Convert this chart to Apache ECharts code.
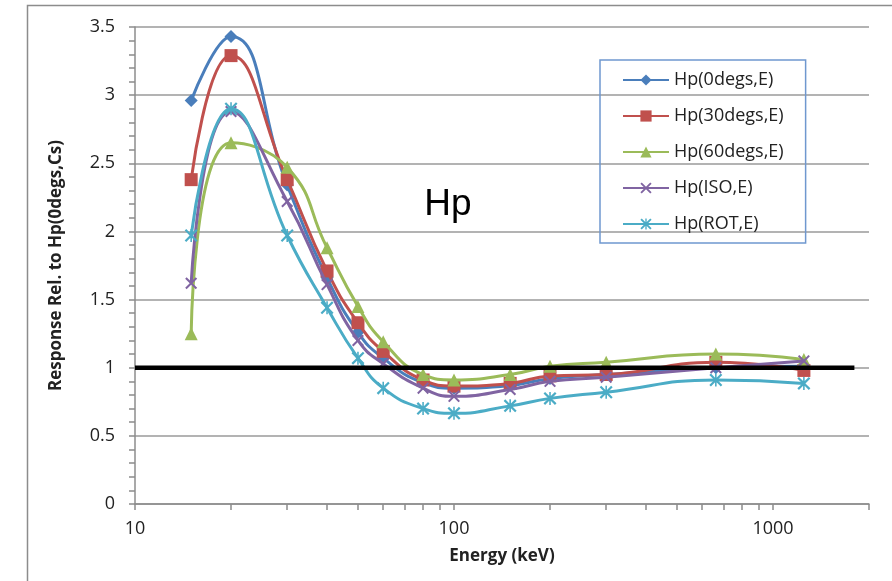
<!DOCTYPE html>
<html>
<head>
<meta charset="utf-8">
<script src="https://cdn.jsdelivr.net/npm/echarts@6/dist/echarts.min.js"></script>
<style>
html,body{margin:0;padding:0;background:#fff;}
#chart{width:892px;height:581px;}
</style>
</head>
<body>
<div id="chart"></div>
<script>
// Energies (keV)
const energies = [15, 20, 30, 40, 50, 60, 80, 100, 150, 200, 300, 662, 1250];
const seriesNames = ['Hp(0degs,E)', 'Hp(30degs,E)', 'Hp(60degs,E)', 'Hp(ISO,E)', 'Hp(ROT,E)'];
const hp0 =   [2.96, 3.43, 2.34, 1.66, 1.26, 1.07, 0.89, 0.85, 0.87, 0.92, 0.95, 1.00, 1.01];
const hp30 =  [2.38, 3.29, 2.38, 1.71, 1.33, 1.12, 0.91, 0.865, 0.885, 0.94, 0.95, 1.04, 0.98];
const hp60 =  [1.25, 2.65, 2.47, 1.88, 1.45, 1.19, 0.95, 0.91, 0.95, 1.01, 1.04, 1.10, 1.06];
const hpIso = [1.62, 2.88, 2.22, 1.61, 1.20, 1.03, 0.85, 0.79, 0.84, 0.90, 0.93, 1.00, 1.05];
const hpRot = [1.97, 2.90, 1.97, 1.44, 1.07, 0.85, 0.70, 0.665, 0.72, 0.775, 0.82, 0.91, 0.885];
// Reference line at response = 1
const refLineX = [10, 1800];
const refLineY = [1, 1];
// Axis ticks
const xLabelValues = [10, 100, 1000];
const xTickValues = [10,20,30,40,50,60,70,80,90,100,200,300,400,500,600,700,800,900,1000,2000];
const yMin = 0, yMax = 3.5, yStep = 0.5;
const xMin = 10, xMax = 2000;

const colors = ['#4a7ebb', '#c0504d', '#9bbb59', '#8064a2', '#4bacc6'];
const xPath = 'path://M0,1.2L1.2,0L5,3.8L8.8,0L10,1.2L6.2,5L10,8.8L8.8,10L5,6.2L1.2,10L0,8.8L3.8,5Z';
const starPath = 'path://M0,1.2L1.2,0L5,3.8L8.8,0L10,1.2L6.2,5L10,8.8L8.8,10L5,6.2L1.2,10L0,8.8L3.8,5Z M4.4,0L5.6,0L5.6,10L4.4,10Z';
const symbols = ['diamond', 'rect', 'triangle', xPath, starPath];
const symbolSizes = [13, 13, 13, 12, 13];
const allData = [hp0, hp30, hp60, hpIso, hpRot];

const font = 'Open Sans';
const series = allData.map((vals, i) => ({
  name: seriesNames[i],
  type: 'line',
  smooth: 0.5,
  data: energies.map((e, j) => [e, vals[j]]),
  symbol: symbols[i],
  symbolSize: symbolSizes[i],
  showAllSymbol: true,
  lineStyle: { color: colors[i], width: 3 },
  itemStyle: { color: colors[i] },
  z: 2 + i
}));
series.push({
  name: 'ref',
  type: 'line',
  data: refLineX.map((x, j) => [x, refLineY[j]]),
  symbol: 'none',
  lineStyle: { color: '#000', width: 4.5 },
  z: 10,
  silent: true
});

const chart = echarts.init(document.getElementById('chart'));
chart.setOption({
  animation: false,
  backgroundColor: '#fff',
  grid: { left: 135, right: 23, top: 27, bottom: 77 },
  graphic: [
    { type: 'rect', shape: { x: 27.5, y: 5.5, width: 900, height: 600 }, style: { fill: 'none', stroke: '#8c8c8c', lineWidth: 1.5 }, z: -1 },
    { type: 'text', x: 448, y: 205, style: { text: 'Hp', font: '37px "Liberation Sans"', fill: '#000', textAlign: 'center', textVerticalAlign: 'middle' } }
  ],
  legend: {
    data: seriesNames,
    orient: 'vertical',
    left: 600, top: 60,
    padding: [11, 22, 10, 22],
    itemWidth: 46, itemHeight: 14, itemGap: 18,
    borderColor: '#6f98cf', borderWidth: 1.5,
    textStyle: { fontFamily: font, fontSize: 18, color: '#222' }
  },
  xAxis: {
    type: 'log', logBase: 10, min: xMin, max: xMax,
    name: 'Energy (keV)', nameLocation: 'middle', nameGap: 44,
    nameTextStyle: { fontFamily: font, fontSize: 17, fontWeight: 'bold', color: '#222' },
    axisLine: { lineStyle: { color: '#8c8c8c', width: 1.5 } },
    axisTick: { show: true, length: 6, lineStyle: { color: '#8c8c8c', width: 1.5 }, customValues: xTickValues },
    axisLabel: { customValues: xLabelValues, formatter: v => String(Math.round(v)), fontFamily: font, fontSize: 18, color: '#222', margin: 16 },
    splitLine: { show: false }
  },
  yAxis: {
    type: 'value', min: yMin, max: yMax, interval: yStep,
    name: 'Response Rel. to Hp(0degs,Cs)', nameLocation: 'middle', nameGap: 70,
    nameTextStyle: { fontFamily: font, fontSize: 17, fontWeight: 'bold', color: '#222' },
    axisLine: { show: true, lineStyle: { color: '#8c8c8c', width: 1.5 } },
    axisTick: { show: true, length: 6, lineStyle: { color: '#8c8c8c', width: 1.5 } },
    minorTick: { show: true, splitNumber: 5, length: 6, lineStyle: { color: '#8c8c8c', width: 1.5 } },
    axisLabel: { fontFamily: font, fontSize: 18, color: '#222', margin: 20 },
    splitLine: { show: true, lineStyle: { color: '#9a9a9a', width: 1.5 } }
  },
  series: series
});
</script>
</body>
</html>
